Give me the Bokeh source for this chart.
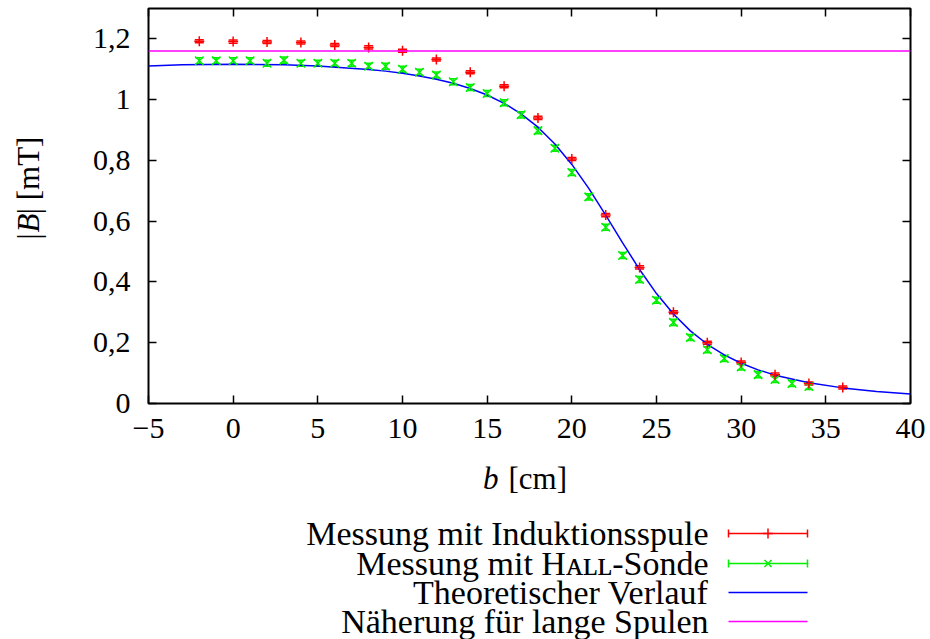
import math
from bokeh.plotting import figure
from bokeh.models import (ColumnDataSource, Whisker, TeeHead, Span, LinearAxis,
                          FixedTicker, CustomJSTickFormatter, Range1d)
from bokeh.layouts import column, row
from bokeh.embed import file_html
from bokeh.resources import INLINE

# ---------------- data ----------------
ind_b = [-2, 0, 2, 4, 6, 8, 10, 12, 14, 16, 18, 20, 22, 24, 26, 28, 30, 32, 34, 36]
ind_B = [1.192, 1.191, 1.190, 1.188, 1.180, 1.172, 1.161, 1.132, 1.090, 1.044,
         0.940, 0.805, 0.620, 0.448, 0.300, 0.200, 0.135, 0.095, 0.066, 0.053]
ind_err = 0.005

hall_b = list(range(-2, 35))
hall_B = [1.128, 1.128, 1.128, 1.128, 1.120, 1.130, 1.120, 1.120, 1.120, 1.120,
          1.110, 1.110, 1.100, 1.090, 1.081, 1.059, 1.040, 1.020, 0.990, 0.950,
          0.898, 0.840, 0.760, 0.680, 0.580, 0.487, 0.408, 0.340, 0.267, 0.217,
          0.177, 0.148, 0.120, 0.095, 0.079, 0.066, 0.056]
hall_err = 0.01

theory_b = [-5, -3, 0, 3, 5, 8, 9, 10, 11, 12, 13, 14, 15, 16, 17, 18, 19, 20, 21,
            22, 23, 24, 25, 26, 27, 28, 29, 30, 31, 32, 34, 36, 38, 40]
theory_B = [1.1108, 1.1146, 1.1167, 1.1146, 1.1108, 1.0996, 1.0939, 1.0869, 1.0782,
            1.0673, 1.0538, 1.0368, 1.0153, 0.9880, 0.9533, 0.9093, 0.8542, 0.7869,
            0.7078, 0.6199, 0.5288, 0.4409, 0.3617, 0.2943, 0.2391, 0.1949, 0.1600,
            0.1324, 0.1107, 0.0933, 0.0682, 0.0514, 0.0398, 0.0316]

long_coil_B = 1.16

x_ticks = [-5, 0, 5, 10, 15, 20, 25, 30, 35, 40]
y_ticks = [0, 0.2, 0.4, 0.6, 0.8, 1.0, 1.2]

legend_labels = ["Messung mit Induktionsspule", "Messung mit H\u1d00\u029f\u029f-Sonde",
                 "Theoretischer Verlauf", "N\u00e4herung f\u00fcr lange Spulen"]

RED = "#ff0000"
GREEN = "#00f000"
BLUE = "#0000ff"
MAGENTA = "#ff00ff"
FONT = "Liberation Serif"
TICK_FS = "30px"
LAB_FS = "31px"

TOP_H = 455

# ---------------- main figure ----------------
p = figure(width=870, height=TOP_H, x_range=Range1d(-5, 40), y_range=Range1d(0, 1.3),
           output_backend="svg", toolbar_location=None,
           min_border_left=88, min_border_right=20, min_border_top=8,
           min_border_bottom=TOP_H - 403)
p.background_fill_color = "white"
p.border_fill_color = "white"
p.grid.grid_line_color = None
p.outline_line_color = "black"
p.outline_line_width = 2

xfmt = CustomJSTickFormatter(code="return tick < 0 ? '\\u2212' + (-tick) : '' + tick;")
yfmt = CustomJSTickFormatter(code="var s = tick.toFixed(1); if (s.endsWith('.0')) { s = s.slice(0, -2); } return s.replace('.', ',');")
blank = CustomJSTickFormatter(code="return '';")

xb = p.below[0]
yl = p.left[0]
xb.ticker = FixedTicker(ticks=x_ticks)
xb.formatter = xfmt
yl.ticker = FixedTicker(ticks=y_ticks)
yl.formatter = yfmt

yr = LinearAxis(ticker=FixedTicker(ticks=y_ticks), formatter=blank)
xt = LinearAxis(ticker=FixedTicker(ticks=x_ticks), formatter=blank)
p.add_layout(yr, "right")
p.add_layout(xt, "above")

for ax in (xb, yl, yr, xt):
    ax.axis_line_color = None
    ax.major_tick_in = 8
    ax.major_tick_out = 0
    ax.major_tick_line_width = 1.5
    ax.major_tick_line_color = "black"
    ax.minor_tick_line_color = None
    ax.major_label_text_font = FONT
    ax.major_label_text_color = "black"

xb.major_label_text_font_size = TICK_FS
yl.major_label_text_font_size = TICK_FS
xb.major_label_standoff = 15
yl.major_label_standoff = 18
for ax in (yr, xt):
    ax.major_label_text_font_size = "1px"
    ax.major_label_standoff = 0

# long coil approximation
p.add_layout(Span(location=long_coil_B, dimension="width", line_color=MAGENTA, line_width=1.5))

# theory curve
p.line(theory_b, theory_B, line_color=BLUE, line_width=1.5)

# Hall probe
hall_src = ColumnDataSource(dict(x=hall_b, y=hall_B,
                                 lo=[v - hall_err for v in hall_B],
                                 hi=[v + hall_err for v in hall_B]))
p.add_layout(Whisker(source=hall_src, base="x", lower="lo", upper="hi", dimension="height",
                     line_color=GREEN, line_width=1.5,
                     lower_head=TeeHead(size=8, line_color=GREEN, line_width=1.5),
                     upper_head=TeeHead(size=8, line_color=GREEN, line_width=1.5)))
p.scatter("x", "y", source=hall_src, marker="x", size=12, line_color=GREEN, line_width=1.5)

# Induction coil
ind_src = ColumnDataSource(dict(x=ind_b, y=ind_B,
                                lo=[v - ind_err for v in ind_B],
                                hi=[v + ind_err for v in ind_B]))
p.add_layout(Whisker(source=ind_src, base="x", lower="lo", upper="hi", dimension="height",
                     line_color=RED, line_width=1.5,
                     lower_head=TeeHead(size=9, line_color=RED, line_width=1.5),
                     upper_head=TeeHead(size=9, line_color=RED, line_width=1.5)))
p.scatter("x", "y", source=ind_src, marker="cross", size=10, line_color=RED, line_width=1.5)

# ---------------- y-label strip ----------------
yfig = figure(width=60, height=TOP_H, x_range=Range1d(0, 60), y_range=Range1d(TOP_H, 0),
              output_backend="svg", toolbar_location=None, min_border=0)
yfig.axis.visible = False
yfig.grid.grid_line_color = None
yfig.outline_line_color = None
ang = math.pi / 2
yfig.text(x=[28], y=[266], text=["|"], text_font={"value": FONT}, text_font_size=LAB_FS,
          angle=ang, text_align="left", text_baseline="middle", text_color="black")
yfig.text(x=[28], y=[258], text=["B"], text_font={"value": FONT}, text_font_size=LAB_FS,
          text_font_style="italic", angle=ang, text_align="left", text_baseline="middle",
          text_color="black")
yfig.text(x=[28], y=[237], text=["| [mT]"], text_font={"value": FONT}, text_font_size=LAB_FS,
          angle=ang, text_align="left", text_baseline="middle", text_color="black")

# ---------------- legend / x-label figure ----------------
LG_H = 639 - TOP_H
lg = figure(width=930, height=LG_H, x_range=Range1d(0, 930), y_range=Range1d(LG_H, 0),
            output_backend="svg", toolbar_location=None, min_border=0)
lg.axis.visible = False
lg.grid.grid_line_color = None
lg.outline_line_color = None
lg.background_fill_color = "white"
lg.border_fill_color = "white"

xlab_y = 478 - TOP_H
lg.text(x=[498], y=[xlab_y], text=["b"], text_font={"value": FONT}, text_font_size=LAB_FS,
        text_font_style="italic", text_align="right", text_baseline="middle", text_color="black")
lg.text(x=[508], y=[xlab_y], text=["[cm]"], text_font={"value": FONT}, text_font_size=LAB_FS,
        text_align="left", text_baseline="middle", text_color="black")

row_y = [533 - TOP_H, 563 - TOP_H, 592 - TOP_H, 621 - TOP_H]
text_x = 708
seg_x0, seg_x1 = 728, 807
mid_x = (seg_x0 + seg_x1) / 2
cap = 4

lg.text(x=[text_x] * 4, y=row_y, text=legend_labels, text_font={"value": FONT},
        text_font_size="34px", text_align="right", text_baseline="middle", text_color="black")

colors = [RED, GREEN, BLUE, MAGENTA]
lg.segment(x0=[seg_x0] * 4, y0=row_y, x1=[seg_x1] * 4, y1=row_y,
           line_color=colors, line_width=1.5)
for i in range(2):
    lg.segment(x0=[seg_x0, seg_x1], y0=[row_y[i] - cap] * 2, x1=[seg_x0, seg_x1],
               y1=[row_y[i] + cap] * 2, line_color=colors[i], line_width=1.5)
lg.scatter([mid_x], [row_y[0]], marker="cross", size=10, line_color=RED, line_width=1.5)
lg.scatter([mid_x], [row_y[1]], marker="x", size=10, line_color=GREEN, line_width=1.5)

layout = column(row(yfig, p, spacing=0), lg, spacing=0)
open("out.html", "w").write(file_html(layout, INLINE))
